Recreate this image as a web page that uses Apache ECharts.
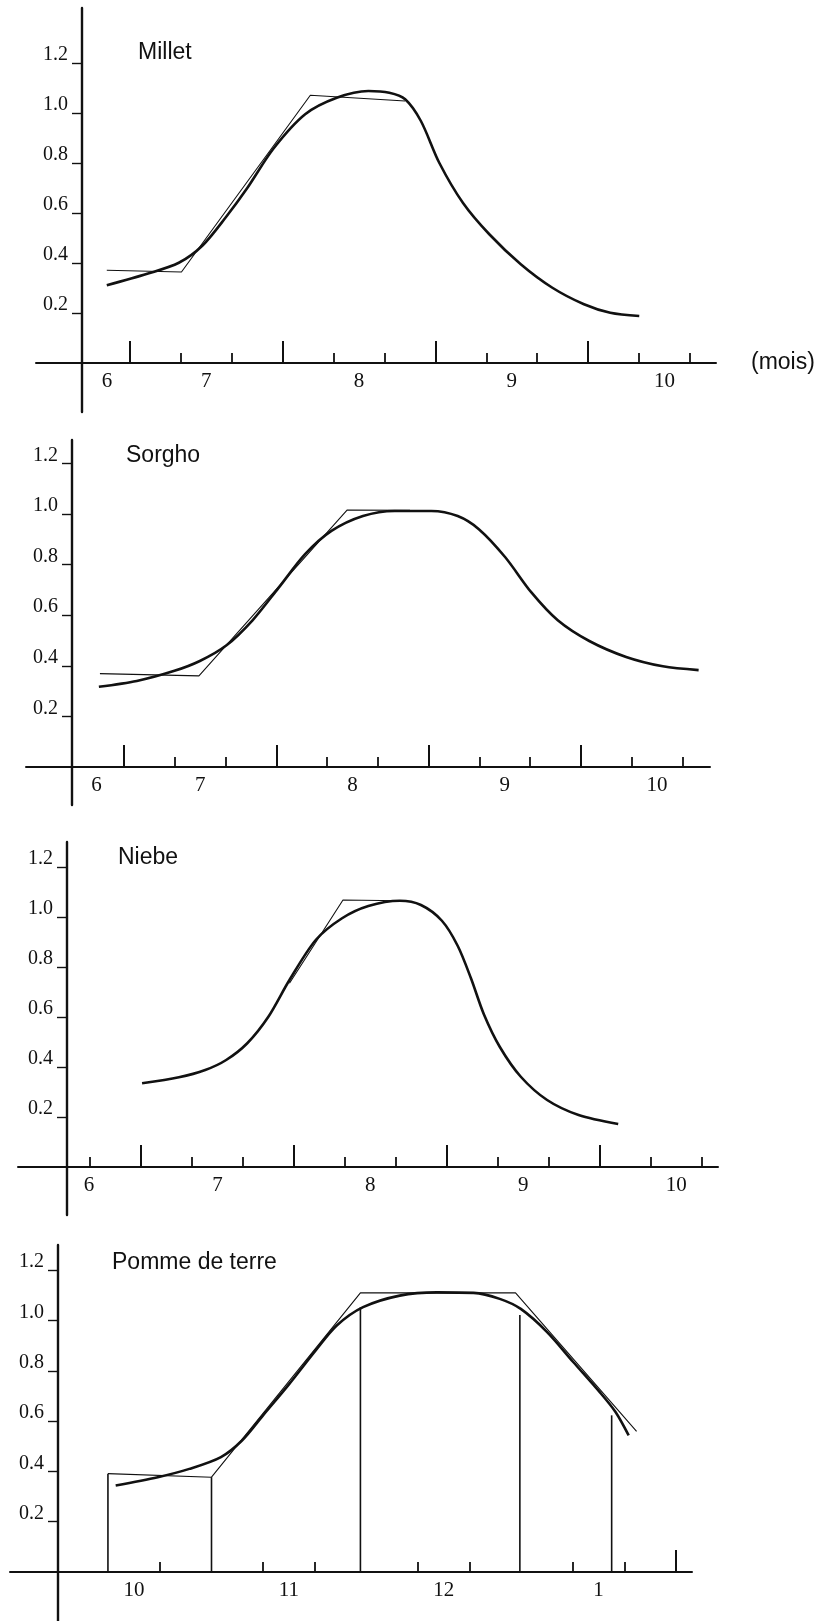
<!DOCTYPE html>
<html><head><meta charset="utf-8">
<script src="https://cdn.jsdelivr.net/npm/echarts@6/dist/echarts.min.js"></script>
<style>html,body{margin:0;padding:0;background:#fff}#c{width:825px;height:1621px}</style>
</head><body><div id="c"></div>
<script>
// ---------- DATA (months on x, crop coefficient on y) ----------
const yTickValues = [0.2, 0.4, 0.6, 0.8, 1.0, 1.2];

// Millet
const milletTitle = 'Millet';
const milletCurveMonth = [6.348, 6.613, 6.820, 6.975, 7.130, 7.268, 7.440, 7.647, 7.854, 8.061, 8.198, 8.302, 8.405, 8.526, 8.681, 8.853, 9.059, 9.266, 9.473, 9.645, 9.835];
const milletCurveKc    = [0.311, 0.357, 0.401, 0.470, 0.585, 0.700, 0.858, 0.995, 1.061, 1.088, 1.081, 1.055, 0.968, 0.800, 0.640, 0.515, 0.395, 0.301, 0.235, 0.201, 0.188];
const milletStageMonth = [6.348, 6.837, 7.681, 8.302];
const milletStageKc    = [0.371, 0.364, 1.071, 1.048];
const milletLabelPos   = [6.35, 7, 8, 9, 10];
const milletLabels     = ['6', '7', '8', '9', '10'];
const milletMajorTicks = [6.5, 7.5, 8.5, 9.5];
const milletMinorTicks = [6.8333, 7.1667, 7.8333, 8.1667, 8.8333, 9.1667, 9.8333, 10.1667];

// Sorgho
const sorghoTitle = 'Sorgho';
const sorghoCurveMonth = [6.335, 6.584, 6.826, 6.998, 7.171, 7.344, 7.516, 7.689, 7.862, 8.069, 8.277, 8.518, 8.691, 8.830, 9.002, 9.175, 9.348, 9.555, 9.797, 10.038, 10.273];
const sorghoCurveKc    = [0.317, 0.340, 0.379, 0.419, 0.480, 0.580, 0.709, 0.841, 0.933, 0.992, 1.012, 1.012, 0.992, 0.940, 0.830, 0.690, 0.580, 0.498, 0.435, 0.398, 0.383];
const sorghoStageMonth = [6.342, 6.992, 7.966, 8.378];
const sorghoStageKc    = [0.369, 0.360, 1.016, 1.015];
const sorghoLabelPos   = [6.32, 7, 8, 9, 10];
const sorghoLabels     = ['6', '7', '8', '9', '10'];
const sorghoMajorTicks = [6.5, 7.5, 8.5, 9.5];
const sorghoMinorTicks = [6.8333, 7.1667, 7.8333, 8.1667, 8.8333, 9.1667, 9.8333, 10.1667];

// Niebe
const niebeTitle = 'Niebe';
const niebeCurveMonth = [6.507, 6.748, 6.920, 7.057, 7.195, 7.333, 7.471, 7.643, 7.815, 7.987, 8.193, 8.331, 8.468, 8.571, 8.658, 8.743, 8.847, 8.984, 9.156, 9.362, 9.621];
const niebeCurveKc    = [0.335, 0.359, 0.388, 0.428, 0.495, 0.601, 0.748, 0.908, 0.995, 1.044, 1.065, 1.048, 0.985, 0.885, 0.755, 0.610, 0.480, 0.361, 0.268, 0.208, 0.172];
const niebeStageMonth = [7.471, 7.821, 8.193];
const niebeStageKc    = [0.735, 1.068, 1.065];
const niebeLabelPos   = [6.16, 7, 8, 9, 10];
const niebeLabels     = ['6', '7', '8', '9', '10'];
const niebeMajorTicks = [6.5, 7.5, 8.5, 9.5];
const niebeMinorTicks = [6.1667, 6.8333, 7.1667, 7.8333, 8.1667, 8.8333, 9.1667, 9.8333, 10.1667];

// Pomme de terre
const potatoTitle = 'Pomme de terre';
const potatoCurveMonth = [9.881, 10.153, 10.357, 10.561, 10.697, 10.833, 11.003, 11.173, 11.309, 11.479, 11.716, 11.955, 12.193, 12.362, 12.498, 12.668, 12.838, 13.008, 13.110, 13.195];
const potatoCurveKc    = [0.344, 0.377, 0.410, 0.457, 0.523, 0.623, 0.748, 0.881, 0.980, 1.053, 1.099, 1.112, 1.110, 1.086, 1.046, 0.954, 0.834, 0.715, 0.636, 0.543];
const potatoStageMonth = [9.831, 10.5, 11.462, 12.464, 13.246];
const potatoStageKc    = [0.391, 0.377, 1.110, 1.110, 0.559];
const potatoDropMonth  = [9.831, 10.5, 11.462, 12.492, 13.085];
const potatoDropKc     = [0.391, 0.377, 1.053, 1.022, 0.623];
const potatoLabelPos   = [10, 11, 12, 13];
const potatoLabels     = ['10', '11', '12', '1'];
const potatoMajorTicks = [13.5];
const potatoMinorTicks = [10.1667, 10.8333, 11.1667, 11.8333, 12.1667, 12.8333, 13.1667];

const unitLabel = '(mois)';

// ---------- LAYOUT (pixels) ----------
const layouts = [
  {xl: 36, xr: 716, x0: 130,   v0: 6.5,  pxm: 152.7, yt: 8,    yb: 412,  zero: 363,  pyu: 250,   ya: 82, tx: 138, ty: 41},
  {xl: 26, xr: 710, x0: 124,   v0: 6.5,  pxm: 152.3, yt: 440,  yb: 805,  zero: 767,  pyu: 253,   ya: 72, tx: 126, ty: 444},
  {xl: 18, xr: 718, x0: 141,   v0: 6.5,  pxm: 152.9, yt: 842,  yb: 1215, zero: 1167, pyu: 250,   ya: 67, tx: 118, ty: 846},
  {xl: 10, xr: 692, x0: 211.5, v0: 10.5, pxm: 154.8, yt: 1245, yb: 1621, zero: 1572, pyu: 251.5, ya: 58, tx: 112, ty: 1251}
];

const panels = [
  {title: milletTitle, cx: milletCurveMonth, cy: milletCurveKc, sx: milletStageMonth, sy: milletStageKc, lp: milletLabelPos, lt: milletLabels, maj: milletMajorTicks, min: milletMinorTicks},
  {title: sorghoTitle, cx: sorghoCurveMonth, cy: sorghoCurveKc, sx: sorghoStageMonth, sy: sorghoStageKc, lp: sorghoLabelPos, lt: sorghoLabels, maj: sorghoMajorTicks, min: sorghoMinorTicks},
  {title: niebeTitle, cx: niebeCurveMonth, cy: niebeCurveKc, sx: niebeStageMonth, sy: niebeStageKc, lp: niebeLabelPos, lt: niebeLabels, maj: niebeMajorTicks, min: niebeMinorTicks},
  {title: potatoTitle, cx: potatoCurveMonth, cy: potatoCurveKc, sx: potatoStageMonth, sy: potatoStageKc, lp: potatoLabelPos, lt: potatoLabels, maj: potatoMajorTicks, min: potatoMinorTicks, dx: potatoDropMonth, dy: potatoDropKc}
];

const INK = '#111';
const zip = (a, b) => a.map((v, i) => [v, b[i]]);

const grid = [], xAxis = [], yAxis = [], series = [], title = [];
panels.forEach((p, i) => {
  const g = layouts[i];
  const xmin = g.v0 + (g.xl - g.x0) / g.pxm;
  const xmax = g.v0 + (g.xr - g.x0) / g.pxm;
  const ymin = -(g.yb - g.zero) / g.pyu;
  const ymax = (g.zero - g.yt) / g.pyu;
  grid.push({left: g.xl, top: g.yt, width: g.xr - g.xl, height: g.yb - g.yt, outerBoundsMode: 'none', containLabel: false});
  const xoff = -(g.yb - g.zero);
  xAxis.push({
    gridIndex: i, type: 'value', min: xmin, max: xmax, position: 'bottom', offset: xoff,
    axisLine: {show: true, onZero: false, lineStyle: {color: INK, width: 2}},
    splitLine: {show: false},
    axisTick: {show: true, inside: true, length: 22, customValues: p.maj, lineStyle: {color: INK, width: 2}},
    axisLabel: {
      show: true, customValues: p.lp, margin: 8,
      fontFamily: 'Liberation Serif', fontSize: 21, color: INK,
      formatter: (v) => { const k = p.lp.findIndex(q => Math.abs(q - v) < 1e-6); return k >= 0 ? p.lt[k] : ''; }
    }
  });
  xAxis.push({
    gridIndex: i, type: 'value', min: xmin, max: xmax, position: 'bottom', offset: xoff,
    axisLine: {show: false, onZero: false},
    splitLine: {show: false},
    axisTick: {show: true, inside: true, length: 10, customValues: p.min, lineStyle: {color: INK, width: 1.8}},
    axisLabel: {show: false}
  });
  yAxis.push({
    gridIndex: i, type: 'value', min: ymin, max: ymax, position: 'left', offset: -(g.ya - g.xl),
    axisLine: {show: true, onZero: false, lineStyle: {color: INK, width: 2.4}},
    splitLine: {show: false},
    axisTick: {show: true, inside: false, length: 10, customValues: yTickValues, lineStyle: {color: INK, width: 1.4}},
    axisLabel: {
      show: true, customValues: yTickValues, margin: 14,
      fontFamily: 'Liberation Serif', fontSize: 20, color: INK,
      verticalAlign: 'bottom', lineHeight: 16,
      formatter: (v) => v.toFixed(1)
    }
  });
  series.push({
    type: 'line', xAxisIndex: 2 * i, yAxisIndex: i, data: zip(p.sx, p.sy),
    symbol: 'none', lineStyle: {color: INK, width: 1.1}, silent: true, z: 2
  });
  series.push({
    type: 'line', xAxisIndex: 2 * i, yAxisIndex: i, data: zip(p.cx, p.cy),
    smooth: 0.3, symbol: 'none', lineStyle: {color: INK, width: 2.6}, silent: true, z: 3
  });
  if (p.dx) {
    series.push({
      type: 'bar', xAxisIndex: 2 * i, yAxisIndex: i, data: zip(p.dx, p.dy),
      barWidth: 1.6, itemStyle: {color: INK}, silent: true, z: 2
    });
  }
  title.push({
    text: p.title, left: g.tx, top: g.ty, padding: 0,
    textStyle: {fontFamily: 'Liberation Sans', fontSize: 23, fontWeight: 'normal', color: INK}
  });
});
title.push({
  text: unitLabel, left: 751, top: 351, padding: 0,
  textStyle: {fontFamily: 'Liberation Sans', fontSize: 23, fontWeight: 'normal', color: INK}
});

const chart = echarts.init(document.getElementById('c'), null, {renderer: 'canvas'});
chart.setOption({
  animation: false,
  backgroundColor: '#fff',
  title, grid, xAxis, yAxis, series
});
</script>
</body></html>
